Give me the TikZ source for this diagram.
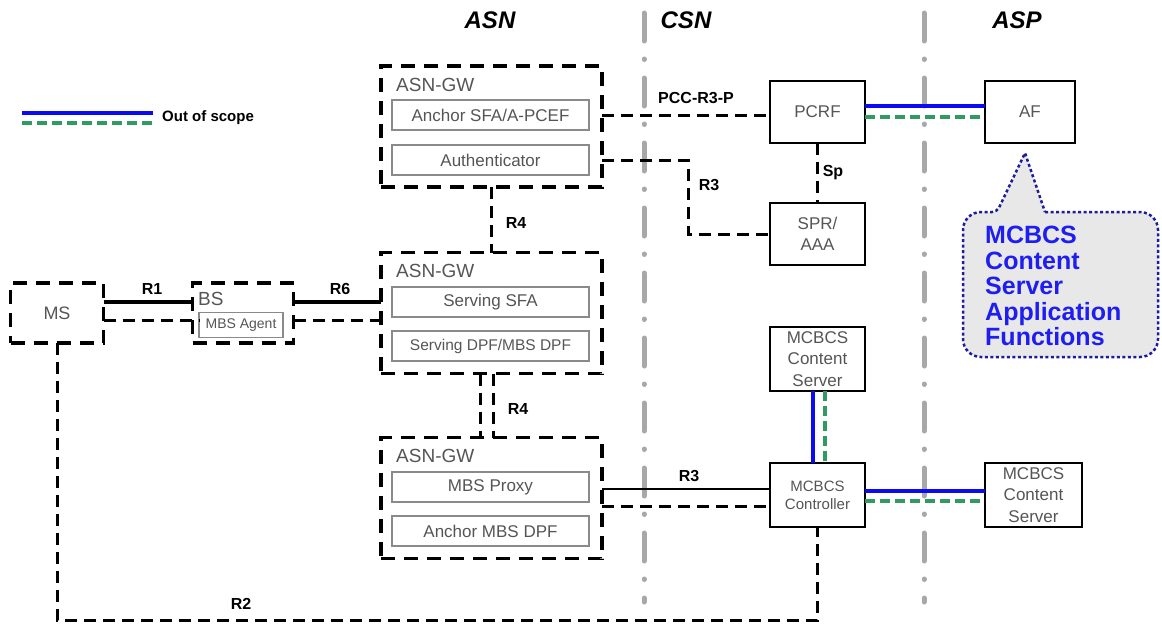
\documentclass[tikz,border=0pt]{standalone}
\usepackage{fontspec}
\setmainfont{Liberation Sans}
\usetikzlibrary{calc}
\definecolor{boxtext}{HTML}{555555}
\definecolor{inedge}{HTML}{8A8A8A}
\definecolor{sepgray}{HTML}{A8A8A8}
\definecolor{oosblue}{HTML}{0A0AF5}
\definecolor{oosgreen}{HTML}{2F9A62}
\definecolor{callfill}{HTML}{E8E8E8}
\definecolor{calledge}{HTML}{1C1C9C}
\definecolor{calltext}{HTML}{1E1EF0}
\newcommand{\myfs}[2]{\fontsize{#1}{#2}\selectfont}
\begin{document}
\begin{tikzpicture}[x=1pt,y=-1pt,
 gwbox/.style={draw, line width=3.5pt, dash pattern=on 14pt off 9pt, minimum width=221pt, minimum height=121pt, inner sep=0pt, outer sep=0pt, text=boxtext, font=\myfs{18}{21}},
 inbox/.style={draw=inedge, line width=1.3pt, minimum width=197pt, minimum height=30pt, inner sep=0pt, outer sep=0pt, text=boxtext, font=\myfs{17}{20}},
 sbox/.style={draw, line width=2.2pt, minimum width=95pt, minimum height=62pt, inner sep=0pt, outer sep=0pt, text=boxtext, align=center, font=\myfs{17}{21.5}},
 gwlbl/.style={anchor=west, text=boxtext, font=\myfs{19}{22}, inner sep=0pt},
 ilbl/.style={font=\bfseries\myfs{16}{18}, inner sep=0pt},
 cdash/.style={line width=3pt, dash pattern=on 12pt off 7pt},
 csolid/.style={line width=4pt},
 oblue/.style={draw=oosblue, line width=4pt},
 ogreen/.style={draw=oosgreen, line width=3.5pt, dash pattern=on 10pt off 5pt},
 sepline/.style={draw=sepgray, line width=5pt, line cap=round, dash pattern=on 28pt off 18pt on 0.5pt off 18.5pt},
 hdr/.style={font=\bfseries\itshape\myfs{24}{28}, inner sep=0pt}
]
\useasboundingbox (0,0) rectangle (1162,624);

% separators
\draw[sepline] (644,13) -- (644,602);
\draw[sepline] (924,13) -- (924,602);

% headers
\node[hdr] (hasn) at (490,20) {ASN};
\node[hdr] (hcsn) at (686,20) {CSN};
\node[hdr] (hasp) at (1017,20) {ASP};

% legend
\coordinate (lg1) at (22,113); \coordinate (lg2) at (153,113);
\coordinate (lg3) at (22,123); \coordinate (lg4) at (153,123);
\draw[oblue] (lg1) -- (lg2);
\draw[ogreen] (lg3) -- (lg4);
\node[ilbl, anchor=west, font=\bfseries\myfs{15}{18}] (oos) at (162,118) {Out of scope};

% ASN gateways
\node[gwbox] (tgw) at (491.5,126.5) {};
\node[gwlbl] (tgwl) at (396,85) {ASN-GW};
\node[inbox] (ta) at (490.5,115) {Anchor SFA/A-PCEF};
\node[inbox] (tb) at (490.5,160) {Authenticator};

\node[gwbox] (mgw) at (491.5,313) {};
\node[gwlbl] (mgwl) at (396,271) {ASN-GW};
\node[inbox] (ma) at (490.5,302) {Serving SFA};
\node[inbox, font=\myfs{15.5}{18}] (mb) at (490.5,346) {Serving DPF/MBS DPF};

\node[gwbox] (bgw) at (491.5,498) {};
\node[gwlbl] (bgwl) at (396,456) {ASN-GW};
\node[inbox] (ba) at (490.5,487) {MBS Proxy};
\node[inbox] (bb) at (490.5,531) {Anchor MBS DPF};

% MS and BS
\node[gwbox, minimum width=93pt, minimum height=60pt] (ms) at (57,313) {MS};
\node[gwbox, minimum width=101pt, minimum height=60pt] (bs) at (243,313) {};
\node[gwlbl] (bsl) at (198,299) {BS};
\node[inbox, minimum width=84pt, minimum height=25pt, font=\myfs{14}{16}] (agent) at (241,325) {MBS Agent};

% CSN / ASP boxes
\node[sbox] (pcrf) at (817.5,112) {PCRF};
\node[sbox, minimum width=90pt] (af) at (1030,112) {AF};
\node[sbox] (spr) at (817.5,234) {SPR/\\AAA};
\node[sbox, minimum height=64pt] (cs1) at (817.5,359) {MCBCS\\Content\\Server};
\node[sbox, minimum height=64pt, font=\myfs{15}{18}] (ctrl) at (817.5,495) {MCBCS\\Controller};
\node[sbox, minimum width=97pt, minimum height=64pt] (cs2) at (1033.5,495) {MCBCS\\Content\\Server};

% callout
\draw[calledge, fill=callfill, line width=2.5pt, dash pattern=on 3pt off 2.5pt]
  (1045,212) [rounded corners=18pt] -- (1158,212) -- (1158,357) -- (963,357) -- (963,212) [rounded corners=5pt] -- (997,212) [sharp corners] -- (1025,153) -- cycle;
\node[anchor=north west, align=left, text=calltext, font=\bfseries\myfs{25}{25.5}, inner sep=0pt] (ctext) at (985,226) {MCBCS\\Content\\Server\\Application\\Functions};

% connectors
\draw[cdash] (ta.east -| tgw.east) -- (ta.east -| pcrf.west);
\coordinate (r3k) at (688,0);
\draw[cdash] (tb.east -| tgw.east) -| (r3k |- spr.west) -- (spr.west);
\draw[cdash] (pcrf.south) -- (spr.north);
\draw[oblue] ([yshift=6pt]pcrf.east) -- ([yshift=6pt]af.west);
\draw[ogreen] ([yshift=-5pt]pcrf.east) -- ([yshift=-5pt]af.west);

\draw[cdash] (tgw.south) -- (mgw.north);
\draw[cdash] ([xshift=-11pt]mgw.south) -- ([xshift=-11pt]bgw.north);
\draw[cdash] ([xshift=2pt]mgw.south) -- ([xshift=2pt]bgw.north);

\coordinate (q1) at ([yshift=11pt]ms.east);
\coordinate (q2) at ([yshift=-7pt]ms.east);
\draw[csolid] (q1) -- (q1 -| bs.west);
\draw[cdash] (q2) -- (q2 -| agent.west);
\draw[csolid] (q1 -| bs.east) -- (q1 -| mgw.west);
\draw[cdash] (q2 -| bs.east) -- (q2 -| mgw.west);

\coordinate (s1) at ([yshift=6pt]ctrl.west);
\coordinate (s2) at ([yshift=-11pt]ctrl.west);
\draw[line width=2.5pt] (s1 -| bgw.east) -- (s1);
\draw[cdash] (s2 -| bgw.east) -- (s2);

\draw[oblue] ([xshift=-4.5pt]cs1.south) -- ([xshift=-4.5pt]ctrl.north);
\draw[ogreen] ([xshift=7.5pt]cs1.south) -- ([xshift=7.5pt]ctrl.north);
\draw[oblue] ([yshift=4pt]ctrl.east) -- ([yshift=4pt]cs2.west);
\draw[ogreen] ([yshift=-6pt]ctrl.east) -- ([yshift=-6pt]cs2.west);

\coordinate (r2c) at (400,620);
\draw[cdash] (ms.south) |- (r2c) -| (ctrl.south);

% interface labels
\node[ilbl] (lr1) at (152,289) {R1};
\node[ilbl] (lr6) at (340,289) {R6};
\node[ilbl] (lr4a) at (516,223) {R4};
\node[ilbl] (lr4b) at (518,409) {R4};
\node[ilbl] (lpcc) at (696,98) {PCC-R3-P};
\node[ilbl] (lr3a) at (709,185) {R3};
\node[ilbl] (lsp) at (833,173) {Sp};
\node[ilbl] (lr3b) at (689,476) {R3};
\node[ilbl] (lr2) at (241,604) {R2};
\end{tikzpicture}
\end{document}
